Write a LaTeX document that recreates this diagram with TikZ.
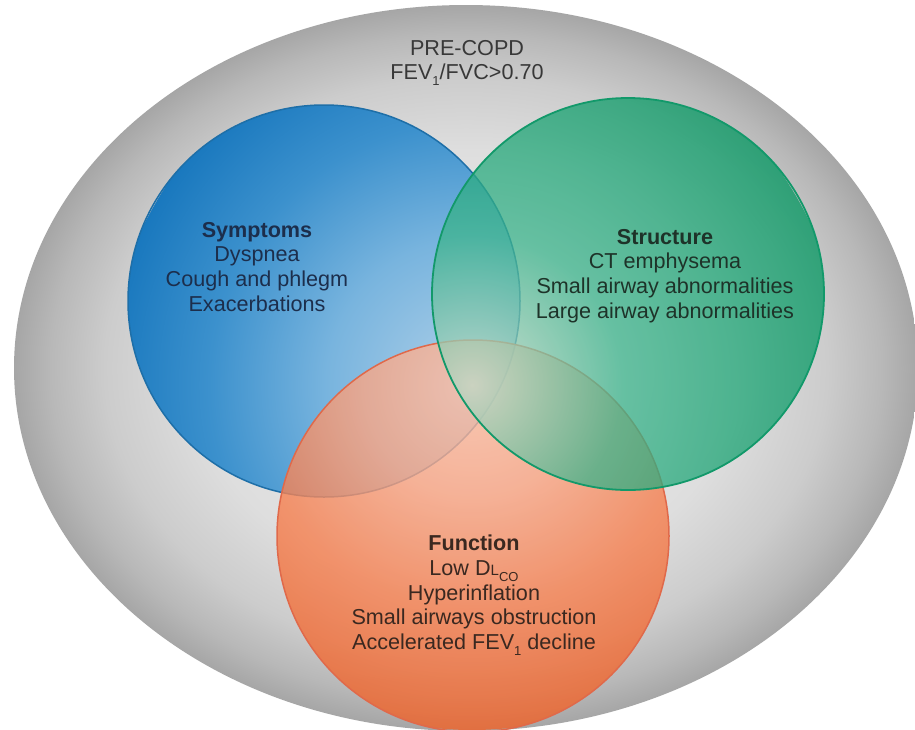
\documentclass[tikz,border=0pt]{standalone}
\usepackage{fontspec}
\setmainfont{Liberation Sans}
\definecolor{gc0}{HTML}{F0F0F0}
\definecolor{gc1}{HTML}{DEDEDE}
\definecolor{gc2}{HTML}{CCCCCC}
\definecolor{gc3}{HTML}{B8B8B8}
\definecolor{gc4}{HTML}{A6A6A6}
\definecolor{bl0}{HTML}{B0D0E8}
\definecolor{bl1}{HTML}{78B4DE}
\definecolor{bl2}{HTML}{3C91CD}
\definecolor{bl3}{HTML}{1978BE}
\definecolor{gr0}{HTML}{C0D9C6}
\definecolor{gr1}{HTML}{3CB48C}
\definecolor{gr2}{HTML}{00965F}
\definecolor{or0}{HTML}{FCBEA5}
\definecolor{or1}{HTML}{F9A584}
\definecolor{or2}{HTML}{F68050}
\definecolor{or3}{HTML}{F06228}
\definecolor{bluebd}{HTML}{1E6FA8}
\definecolor{greenbd}{HTML}{12996A}
\definecolor{orangebd}{HTML}{E0694A}
\definecolor{symtxt}{HTML}{1C2E4C}
\definecolor{strtxt}{HTML}{1E3329}
\definecolor{funtxt}{HTML}{3A2820}
\definecolor{pretxt}{HTML}{383838}
\pgfdeclareradialshading{greyell}{\pgfpoint{0bp}{0bp}}{color(0bp)=(gc0); color(15bp)=(gc1); color(20bp)=(gc2); color(23bp)=(gc3); color(25bp)=(gc4); color(50bp)=(gc4)}
\pgfdeclareradialshading{blueshade}{\pgfpoint{0bp}{0bp}}{color(0bp)=(bl0); color(10bp)=(bl1); color(18bp)=(bl2); color(25bp)=(bl3); color(50bp)=(bl3)}
\pgfdeclareradialshading{greenshade}{\pgfpoint{0bp}{0bp}}{color(0bp)=(gr0); color(10bp)=(gr1); color(25bp)=(gr2); color(50bp)=(gr2)}
\pgfdeclareradialshading{orangeshade}{\pgfpoint{0bp}{0bp}}{color(0bp)=(or0); color(8bp)=(or1); color(16bp)=(or2); color(25bp)=(or3); color(50bp)=(or3)}
\newcommand{\sbs}[1]{\raisebox{-0.28em}{\fontsize{13pt}{13pt}\selectfont #1}}
\newcommand{\smallL}{{\fontsize{15pt}{15pt}\selectfont L}}
\begin{document}
\begin{tikzpicture}[x=1pt,y=-1pt,
  txt/.style={font=\fontsize{21.6pt}{24.6pt}\selectfont, align=center, inner sep=0pt, anchor=north}]
\useasboundingbox (0,0) rectangle (915,729);
\fill[white] (0,0) rectangle (915,729);
\shade[shading=greyell] (466,368) ellipse [x radius=452pt, y radius=363pt];
\coordinate (F) at (472,385);
\coordinate (cb) at (324,301);
\coordinate (cg) at (628,294);
\coordinate (co) at (473,536);
% blue
\begin{scope}
  \clip (cb) circle (196pt);
  \shade[shading=blueshade] (F) circle (365pt);
\end{scope}
\draw[bluebd, line width=1.5pt] (cb) circle (196pt);
% orange
\begin{scope}
  \clip (co) circle (196pt);
  \shade[shading=orangeshade, fill opacity=0.8] (F) circle (345pt);
\end{scope}
\draw[orangebd, line width=1.5pt] (co) circle (196pt);
% green
\begin{scope}
  \clip (cg) circle (196pt);
  \shade[shading=greenshade, fill opacity=0.75] (F) circle (375pt);
\end{scope}
\draw[greenbd, line width=1.8pt] (cg) circle (196pt);
% texts
\node[txt, text=pretxt] (precopd) at (467,40) {PRE-COPD\\FEV\sbs{1}/FVC>0.70};
\node[txt, text=symtxt] (symptoms) at (257,222) {{\bfseries Symptoms}\\Dyspnea\\Cough and phlegm\\Exacerbations};
\node[txt, text=strtxt] (structure) at (665,229) {{\bfseries Structure}\\CT emphysema\\Small airway abnormalities\\Large airway abnormalities};
\node[txt, text=funtxt] (function) at (474,535) {{\bfseries Function}\\Low D\smallL\sbs{CO}\\Hyperinflation\\Small airways obstruction\\Accelerated FEV\sbs{1} decline};
\end{tikzpicture}
\end{document}
